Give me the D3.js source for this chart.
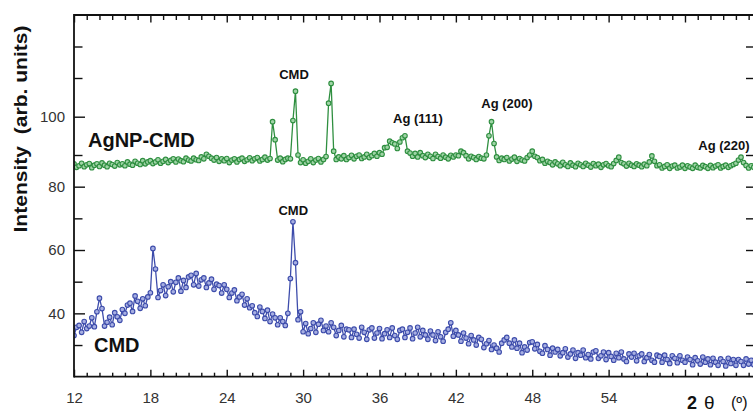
<!DOCTYPE html>
<html><head><meta charset="utf-8">
<script src="https://cdn.jsdelivr.net/npm/d3@7"></script>
<style>
body{margin:0;background:#fff}
svg{display:block}
text{font-family:"Liberation Sans",Arial,Helvetica,sans-serif}
</style>
</head><body>
<svg id="c" width="753" height="414"></svg>
<script>
// ---- data: 2θ sampling grid (degrees) ----
const thetaStart = 12;
const thetaStep = 0.2;

// CMD (blue) intensities, one value per 0.2° from 12.0°
const cmdIntensity = [
  33.0, 35.6, 36.2, 34.0, 37.4, 35.2, 36.0, 38.6, 35.8, 40.5,
  44.8, 41.5, 36.0, 37.2, 38.8, 36.4, 40.2, 38.9, 37.8, 41.2,
  40.0, 42.6, 43.2, 40.6, 45.5, 43.8, 41.6, 44.6, 42.4, 45.2,
  46.5, 60.5, 54.0, 45.0, 47.2, 49.0, 45.6, 48.4, 50.0, 46.8,
  49.8, 51.2, 47.0, 50.4, 48.2, 51.5, 52.0, 49.0, 52.6, 48.6,
  50.6, 51.2, 48.2, 49.6, 50.8, 47.6, 49.2, 48.8, 46.4, 49.0,
  47.6, 45.0, 46.4, 47.4, 44.0, 45.2, 46.0, 42.6, 44.6, 41.8,
  42.4, 40.2, 39.0, 42.0, 40.6, 38.4, 41.0, 37.4, 39.8, 38.6,
  36.4, 38.6, 37.4, 36.2, 40.0, 51.0, 68.9, 56.0, 38.0, 40.5,
  34.2, 36.8, 33.6, 35.2, 37.0, 34.0, 36.6, 37.8, 34.6, 36.0,
  34.2, 37.0, 35.6, 33.0, 34.6, 36.2, 32.6, 35.0, 34.8, 32.4,
  35.0, 33.4, 32.2, 35.6, 34.0, 31.8, 34.8, 35.4, 32.2, 33.8,
  35.2, 32.0, 33.6, 34.8, 32.4, 35.4, 33.0, 31.8, 34.6, 35.0,
  32.4, 34.0, 35.4, 32.0, 33.8, 35.6, 32.6, 34.6, 33.2, 31.8,
  34.4, 33.2, 31.4, 34.2, 32.6, 31.2, 34.0, 35.0, 37.0, 32.8,
  34.6, 33.2, 31.2, 33.8, 32.2, 30.4, 33.0, 31.6, 30.0, 32.4,
  31.8, 29.2, 30.4, 31.4, 28.6, 30.0, 29.0, 27.8, 30.6, 31.6,
  32.4, 30.6, 29.4, 31.6, 29.0, 30.6, 27.6, 29.4, 28.4, 30.8,
  31.0, 28.8, 30.2, 28.0, 27.4, 29.8, 28.6, 26.8, 29.0, 27.8,
  28.6, 26.6, 27.6, 28.8, 26.2, 27.2, 28.4, 25.8, 27.6, 26.8,
  28.4, 26.0, 27.0, 25.6, 27.8, 28.2, 25.8, 26.6, 27.8, 25.4,
  27.6, 26.4, 25.2, 27.4, 26.0, 27.8, 25.6, 24.8, 27.2, 26.2,
  27.4, 25.0, 26.6, 27.2, 24.8, 26.0, 27.0, 25.2, 24.6, 26.8,
  26.4, 24.6, 26.8, 25.4, 24.2, 26.6, 25.8, 24.4, 26.6, 25.2,
  24.6, 26.2, 25.4, 23.8, 26.0, 25.0, 24.0, 26.2, 24.6, 25.6,
  23.8, 25.8, 24.6, 23.6, 25.6, 24.8, 23.4, 25.8, 24.2, 25.4,
  23.6, 25.4, 24.8, 23.6, 25.6, 24.0, 25.2, 23.8
];

// AgNP-CMD (green) intensities, one value per 0.2° from 12.0°
const agnpIntensity = [
  87.2, 86.1, 86.6, 87.4, 86.3, 86.9, 87.3, 86.0, 86.8, 87.2,
  86.4, 87.5, 86.8, 86.3, 87.4, 87.0, 86.5, 87.6, 86.9, 87.2,
  86.6, 87.8, 87.1, 86.8, 88.0, 87.4, 87.0, 88.2, 87.2, 87.8,
  88.2, 87.3, 87.8, 88.5, 87.4, 88.0, 88.6, 87.6, 88.3, 88.8,
  87.8, 88.7, 88.2, 87.9, 89.0, 88.4, 88.1, 89.0, 88.5, 88.3,
  89.4, 88.8, 90.2, 89.6, 89.0, 88.4, 89.2, 88.0, 88.8, 88.2,
  88.9, 87.6, 88.4, 88.8, 87.8, 88.6, 89.0, 88.0, 88.5, 89.1,
  88.2, 88.8, 89.2, 88.1, 88.6, 89.3, 88.4, 88.9, 98.7, 94.0,
  88.4, 89.0, 87.9, 88.6, 89.0, 88.8, 99.0, 106.6, 90.0, 87.6,
  88.5, 87.4, 88.0, 88.8, 87.6, 88.4, 88.9, 87.8, 88.6, 89.5,
  103.5, 108.6, 91.0, 88.6, 89.4, 88.8, 89.8, 88.6, 89.2, 89.9,
  88.8, 89.6, 90.0, 88.9, 89.4, 90.2, 89.2, 89.8, 90.4, 89.6,
  90.6, 90.2, 91.9, 92.0, 93.6, 93.2, 92.9, 91.7, 93.4, 94.5,
  95.0, 91.0, 90.5, 89.6, 90.4, 89.4, 90.6, 89.8, 89.2, 90.2,
  89.6, 88.9, 90.2, 89.5, 89.0, 90.0, 89.3, 88.8, 89.9, 89.4,
  90.0, 89.8, 91.0, 90.6, 89.8, 88.8, 89.6, 89.2, 88.6, 89.5,
  89.0, 88.8, 90.0, 95.0, 98.7, 93.0, 89.4, 88.3, 89.0, 88.6,
  89.2, 88.1, 88.7, 89.3, 88.0, 88.9, 88.4, 88.1, 89.2, 90.0,
  91.0, 89.6, 89.2, 88.2, 88.6, 87.4, 88.0, 87.6, 86.9, 87.8,
  87.2, 86.6, 87.7, 86.9, 86.4, 87.5, 86.8, 86.3, 87.4, 86.9,
  86.4, 87.4, 86.8, 86.2, 87.3, 86.6, 87.1, 86.1, 86.9, 87.3,
  86.6, 86.3, 87.3, 88.3, 89.3, 87.6, 87.2, 86.5, 87.4, 86.8,
  86.4, 87.2, 86.8, 86.3, 87.1, 86.6, 87.8, 89.7, 88.0, 86.6,
  86.9, 85.9, 86.4, 86.9, 85.8, 86.5, 86.8, 85.9, 86.2, 86.8,
  85.8, 86.6, 86.2, 85.8, 86.8, 86.1, 85.9, 86.7, 86.3, 85.8,
  86.7, 86.0, 86.5, 86.9, 85.9, 86.4, 86.8, 86.1, 86.6, 87.0,
  87.4, 88.4, 89.3, 87.6, 86.7, 85.9, 86.6, 86.1
];

const xTickLabels = [12, 18, 24, 30, 36, 42, 48, 54];
const xMajorTicks = [12, 18, 24, 30, 36, 42, 48, 54, 60];
const yTickLabels = [40, 60, 80, 100];
const yMinorTicks = [30, 50, 70, 90, 110, 120];

// ---- layout ----
const L = 74, R = 755, T = 15, B = 376.7;
const svg = d3.select('#c');
const x = d3.scaleLinear().domain([12, 65.5]).range([L, R]);
const y = d3.scaleLinear().domain([20, 90, 100, 110, 130]).range([B, 155, 116.7, 78, T]);

const toPts = arr => arr.map((v, i) => ({ t: thetaStart + i * thetaStep, v }));
const cmd = toPts(cmdIntensity);
const agnp = toPts(agnpIntensity);

svg.append('defs').append('clipPath').attr('id', 'clip')
  .append('rect').attr('x', L).attr('y', T).attr('width', R - L).attr('height', B - T);

const plot = svg.append('g').attr('clip-path', 'url(#clip)');
const line = d3.line().x(d => x(d.t)).y(d => y(d.v));

function drawSeries(data, color, fill) {
  plot.append('path').datum(data).attr('d', line)
    .attr('fill', 'none').attr('stroke', color).attr('stroke-width', 1.3);
  plot.append('g').selectAll('circle').data(data).join('circle')
    .attr('cx', d => x(d.t)).attr('cy', d => y(d.v)).attr('r', 2.3)
    .attr('fill', fill).attr('stroke', color).attr('stroke-width', 1.1);
}
drawSeries(agnp, '#2f8f40', '#9fd4a6');
drawSeries(cmd, '#3d4cab', '#a7afe2');

// ---- axes ----
const minorX = d3.range(13, 66).filter(v => v % 6 !== 0);
const tickStyle = g => {
  g.select('.domain').remove();
  g.selectAll('.tick line').attr('stroke', '#111').attr('stroke-width', 1.4);
};
const labelStyle = g => {
  g.select('.domain').remove();
  g.selectAll('text').attr('font-size', 15).attr('fill', '#333')
    .attr('font-family', '"Liberation Sans",Arial,sans-serif');
};
// bottom
svg.append('g').attr('transform', `translate(0,${B})`)
  .call(d3.axisBottom(x).tickValues(xMajorTicks).tickSizeInner(-7).tickSizeOuter(0).tickFormat('')).call(tickStyle);
svg.append('g').attr('transform', `translate(0,${B})`)
  .call(d3.axisBottom(x).tickValues(minorX).tickSizeInner(-4).tickSizeOuter(0).tickFormat('')).call(tickStyle);
svg.append('g').attr('transform', `translate(0,${B})`)
  .call(d3.axisBottom(x).tickValues(xTickLabels).tickSize(0).tickPadding(16).tickFormat(d3.format('d')))
  .call(labelStyle);
// top
svg.append('g').attr('transform', `translate(0,${T})`)
  .call(d3.axisTop(x).tickValues(xMajorTicks).tickSizeInner(-7.5).tickSizeOuter(0).tickFormat('')).call(tickStyle);
svg.append('g').attr('transform', `translate(0,${T})`)
  .call(d3.axisTop(x).tickValues(minorX).tickSizeInner(-5).tickSizeOuter(0).tickFormat('')).call(tickStyle);
// left
svg.append('g').attr('transform', `translate(${L},0)`)
  .call(d3.axisLeft(y).tickValues(yTickLabels).tickSizeInner(-11).tickSizeOuter(0).tickFormat('')).call(tickStyle);
svg.append('g').attr('transform', `translate(${L},0)`)
  .call(d3.axisLeft(y).tickValues(yMinorTicks).tickSizeInner(-8.5).tickSizeOuter(0).tickFormat('')).call(tickStyle);
svg.append('g').attr('transform', `translate(${L},0)`)
  .call(d3.axisLeft(y).tickValues(yTickLabels).tickSize(0).tickPadding(9).tickFormat(d3.format('d')))
  .call(labelStyle);
// right
svg.append('g').attr('transform', `translate(${R},0)`)
  .call(d3.axisRight(y).tickValues(yTickLabels.concat(yMinorTicks)).tickSizeInner(-9).tickSizeOuter(0).tickFormat('')).call(tickStyle);

// frame
const frame = svg.append('g').attr('stroke', '#111').attr('stroke-width', 1.8);
frame.append('line').attr('x1', L).attr('x2', L).attr('y1', T - 0.9).attr('y2', B + 0.9);
frame.append('line').attr('x1', L).attr('x2', R).attr('y1', B).attr('y2', B);
frame.append('line').attr('x1', L).attr('x2', R).attr('y1', T).attr('y2', T);
frame.append('line').attr('x1', R).attr('x2', R).attr('y1', T).attr('y2', B);

// ---- texts ----
svg.append('text').attr('transform', 'translate(27,129) rotate(-90)')
  .attr('text-anchor', 'middle').attr('font-size', 17.5).attr('font-weight', 'bold').attr('fill', '#111')
  .attr('textLength', 207).attr('lengthAdjust', 'spacingAndGlyphs')
  .text('Intensity\u00A0\u00A0(arb. units)');

svg.append('text').attr('x', 88).attr('y', 146.7).attr('font-size', 20).attr('font-weight', 'bold').attr('fill', '#111').text('AgNP-CMD');
svg.append('text').attr('x', 94).attr('y', 351.7).attr('font-size', 20).attr('font-weight', 'bold').attr('fill', '#111').text('CMD');

const peak = [
  { text: 'CMD', cx: 294, by: 79 },
  { text: 'CMD', cx: 293.3, by: 215 },
  { text: 'Ag (111)', cx: 418, by: 122.5 },
  { text: 'Ag (200)', cx: 507, by: 108.3 },
  { text: 'Ag (220)', cx: 724, by: 150 }
];
svg.append('g').selectAll('text').data(peak).join('text')
  .attr('x', d => d.cx).attr('y', d => d.by).attr('text-anchor', 'middle')
  .attr('font-size', 13).attr('font-weight', 'bold').attr('fill', '#111').text(d => d.text);

svg.append('text').attr('x', 687).attr('y', 408.5).attr('font-size', 18).attr('font-weight', 'bold').attr('fill', '#111').text('2');
svg.append('text').attr('x', 704).attr('y', 408.5).attr('font-size', 19).attr('font-family', '"Liberation Serif","DejaVu Serif",serif').attr('fill', '#111').text('θ');
svg.append('text').attr('x', 731).attr('y', 408).attr('font-size', 16).attr('fill', '#111').text('(º)');
</script>
</body></html>
